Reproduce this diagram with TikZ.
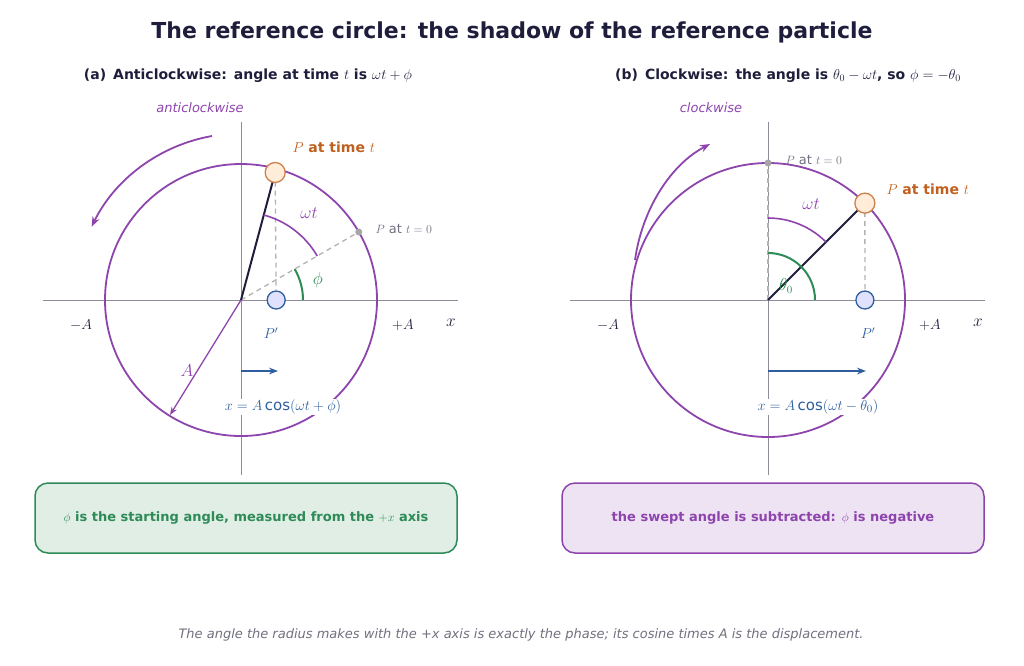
\documentclass[tikz,border=0pt]{standalone}
\usepackage{fontspec}
\setmainfont{DejaVu Sans}
\usetikzlibrary{arrows.meta,calc}
\definecolor{navy}{HTML}{1E1E3C}
\definecolor{purp}{HTML}{8E44AD}
\definecolor{grn}{HTML}{2E8B57}
\definecolor{blu}{HTML}{2E5E9E}
\definecolor{orn}{HTML}{C0601F}
\definecolor{gry}{HTML}{707080}
\begin{document}
\begin{tikzpicture}[x=1pt,y=-1pt,
 circ/.style={purp,line width=1.8},
 axis/.style={gry!80,line width=0.9},
 guide/.style={gray!60,line width=1.3,dash pattern=on 5pt off 4pt},
 ptP/.style={circle,draw=orn!80,fill=orange!15,line width=1.3,minimum size=20,inner sep=0},
 ptQ/.style={circle,draw=blu,fill=blue!12,line width=1.3,minimum size=18,inner sep=0},
 ptO/.style={circle,fill=gray!70,minimum size=7,inner sep=0},
 lab/.style={font=\fontsize{14}{16}\selectfont},
 box/.style={rounded corners=13,line width=1.5,minimum width=422,minimum height=70,font=\bfseries\fontsize{13}{15}\selectfont}]
\useasboundingbox (0,0) rectangle (1024,665);
\node[navy,font=\bfseries\fontsize{22}{26}\selectfont] (title) at (512,32) {The reference circle: the shadow of the reference particle};
\node[navy,font=\bfseries\fontsize{14}{16}\selectfont] (ha) at (248,76) {(a)\enspace Anticlockwise:\enspace angle at time $t$ is $\omega t+\phi$};
\node[navy,font=\bfseries\fontsize{14}{16}\selectfont] (hb) at (788,76) {(b)\enspace Clockwise:\enspace the angle is $\theta_0-\omega t$, so $\phi=-\theta_0$};
% ---------- left
\coordinate (O1) at (241,300);
\draw[axis] (43,300) -- (458,300);
\draw[axis] (241,122) -- (241,475);
\draw[circ] (O1) circle (136);
\node[ptO] (P0a) at ($(O1)+(-30:136)$) {};
\draw[guide] (O1) -- (P0a);
\coordinate (Pta) at ($(O1)+(-75:132)$);
\node[ptQ] (Qa) at (276.2,300) {};
\draw[guide] (Pta) -- (Qa);
\draw[navy,line width=2] (O1) -- (Pta);
\node[ptP] (Pa) at (Pta) {};
\draw[purp,line width=1.6] ($(O1)+(-30:88)$) arc[start angle=-30,end angle=-75,radius=88];
\draw[grn,line width=2] ($(O1)+(0:62)$) arc[start angle=0,end angle=-30,radius=62];
\node[purp,font=\fontsize{16}{18}\selectfont] (wta) at (309,213) {$\omega t$};
\node[grn,font=\fontsize{16}{18}\selectfont] (pha) at (318,280) {$\phi$};
\node[orn,anchor=west,font=\bfseries\fontsize{14}{16}\selectfont] (lPa) at (289,147) {$P$ at time $t$};
\node[gry,anchor=west,font=\fontsize{13}{15}\selectfont] (lP0a) at (372,229) {$P$ at $t=0$};
\node[blu,lab] (lQa) at (271,333) {$P'$};
\node[navy,lab] (mAa) at (81,325) {$-A$};
\node[navy,lab] (pAa) at (403,325) {$+A$};
\node[navy,font=\fontsize{16}{18}\selectfont] (xa) at (451,323) {$x$};
\coordinate (Ra) at (170,415);
\draw[purp,line width=1.3,-{Stealth[length=8]}] (O1) -- (Ra);
\node[purp,font=\fontsize{16}{18}\selectfont] (Aa) at (187,371) {$A$};
\coordinate (b1a) at (241,371); \coordinate (b2a) at (278,371);
\draw[blu,line width=2,-{Stealth[length=9]}] (b1a) -- (b2a);
\node[blu,fill=white,inner sep=1,font=\fontsize{15}{17}\selectfont] (fa) at (283,407) {$x=A\cos(\omega t+\phi)$};
\draw[purp,line width=1.8,-{Stealth[length=10]}] (212,136) arc[start angle=-100,end angle=-154,radius=166];
\node[purp,font=\itshape\fontsize{13}{15}\selectfont] (acw) at (200,108) {anticlockwise};
\node[box,draw=grn,fill=grn!15,text=grn] (ba) at (246,518) {$\phi$ is the starting angle, measured from the $+x$ axis};
% ---------- right
\coordinate (O2) at (768,300);
\draw[axis] (570,300) -- (985,300);
\draw[axis] (768,122) -- (768,475);
\draw[circ] (O2) circle (137);
\node[ptO] (P0b) at (768,163) {};
\draw[guide] (O2) -- (P0b);
\coordinate (Ptb) at ($(O2)+(-45:137)$);
\node[ptQ] (Qb) at (864.9,300) {};
\draw[guide] (Ptb) -- (Qb);
\draw[navy,line width=2] (O2) -- (Ptb);
\node[ptP] (Pb) at (Ptb) {};
\draw[purp,line width=1.6] ($(O2)+(-45:82)$) arc[start angle=-45,end angle=-90,radius=82];
\draw[grn,line width=2] ($(O2)+(0:47)$) arc[start angle=0,end angle=-90,radius=47];
\node[purp,font=\fontsize{16}{18}\selectfont] (wtb) at (811,204) {$\omega t$};
\node[grn,font=\fontsize{16}{18}\selectfont] (thb) at (786,286) {$\theta_0$};
\node[orn,anchor=west,font=\bfseries\fontsize{14}{16}\selectfont] (lPb) at (883,189) {$P$ at time $t$};
\node[gry,anchor=west,font=\fontsize{13}{15}\selectfont] (lP0b) at (782,160) {$P$ at $t=0$};
\node[blu,lab] (lQb) at (868,333) {$P'$};
\node[navy,lab] (mAb) at (608,325) {$-A$};
\node[navy,lab] (pAb) at (930,325) {$+A$};
\node[navy,font=\fontsize{16}{18}\selectfont] (xb) at (978,323) {$x$};
\coordinate (b1b) at (768,371); \coordinate (b2b) at (866,371);
\draw[blu,line width=2,-{Stealth[length=9]}] (b1b) -- (b2b);
\node[blu,fill=white,inner sep=1,font=\fontsize{15}{17}\selectfont] (fb) at (818,407) {$x=A\cos(\omega t-\theta_0)$};
\coordinate (c1) at (635,260); \coordinate (c2) at (710,144);
\draw[purp,line width=1.8,-{Stealth[length=10]}] (c1) .. controls (642,210) and (670,165) .. (c2);
\node[purp,font=\itshape\fontsize{13}{15}\selectfont] (cw) at (711,108) {clockwise};
\node[box,draw=purp,fill=purp!15,text=purp] (bb) at (773,518) {the swept angle is subtracted: $\phi$ is negative};
\node[gry,font=\itshape\fontsize{13}{15}\selectfont] (foot) at (521,635) {The angle the radius makes with the +x axis is exactly the phase; its cosine times A is the displacement.};
\end{tikzpicture}
\end{document}
